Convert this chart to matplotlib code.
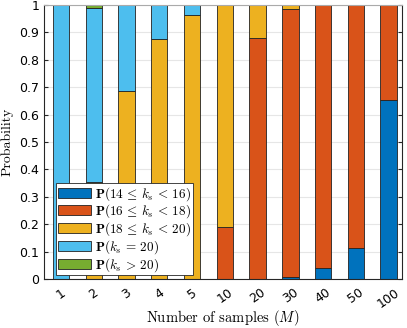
import numpy as np
from matplotlib import pyplot as plt

samples = ['1', '2', '3', '4', '5', '10', '20', '30', '40', '50', '100']
p_14_16 = [0, 0, 0, 0, 0, 0, 0, 0.008, 0.039, 0.114, 0.655]
p_16_18 = [0, 0, 0, 0, 0, 0.189, 0.878, 0.977, 0.961, 0.886, 0.345]
p_18_20 = [0, 0.355, 0.685, 0.875, 0.962, 0.811, 0.122, 0.015, 0, 0, 0]
p_eq_20 = [1.0, 0.633, 0.315, 0.125, 0.038, 0, 0, 0, 0, 0, 0]
p_gt_20 = [0, 0.012, 0, 0, 0, 0, 0, 0, 0, 0, 0]

labels = [r'$\mathbf{P}(14 \,\leq\, k_s \,<\, 16)$',
          r'$\mathbf{P}(16 \,\leq\, k_s \,<\, 18)$',
          r'$\mathbf{P}(18 \,\leq\, k_s \,<\, 20)$',
          r'$\mathbf{P}(k_s \,=\, 20)$',
          r'$\mathbf{P}(k_s \,>\, 20)$']
colors = ['#0072BD', '#D95319', '#EDB120', '#4DBEEE', '#77AC30']

plt.rcParams['mathtext.fontset'] = 'cm'
plt.rcParams['font.family'] = 'DejaVu Sans'

fig = plt.figure(figsize=(4.07, 3.28), dpi=100)
ax = fig.add_axes([0.108, 0.149, 0.879, 0.836])

x = np.arange(len(samples))
bottom = np.zeros(len(samples))
for vals, c, lab in zip([p_14_16, p_16_18, p_18_20, p_eq_20, p_gt_20], colors, labels):
    ax.bar(x, vals, 0.5, bottom=bottom, color=c, edgecolor='#222222',
           linewidth=0.6, label=lab, zorder=2)
    bottom += np.array(vals)

ax.set_xlim(-0.52, len(samples) - 0.6)
ax.set_ylim(0, 1)
ax.set_yticks(np.arange(0, 1.01, 0.1))
ax.set_yticklabels(['0'] + ['%.1f' % v for v in np.arange(0.1, 0.95, 0.1)] + ['1'], fontsize=9)
ax.set_xticks(x)
ax.set_xticklabels(samples, rotation=35, fontsize=9)
ax.tick_params(direction='in', length=3, color='#262626', right=True, top=False)
ax.tick_params(axis='x', length=0, pad=5)
ax.grid(axis='y', color='#e6e6e6', linewidth=0.8, zorder=0)
ax.set_axisbelow(True)
for s in ax.spines.values():
    s.set_color('#262626')
    s.set_linewidth(0.8)
ax.spines['top'].set_color('#aaaaaa')

ax.set_ylabel('Probability', family='cmr10', fontsize=10, labelpad=4)
ax.set_xlabel(r'Number of samples ($M$)', family='cmr10', fontsize=10.5)
ax.xaxis.set_label_coords(0.5, -0.104)

leg = ax.legend(loc='lower left', bbox_to_anchor=(0.034, 0.014), fontsize=9.5,
                frameon=True, fancybox=False, edgecolor='#262626',
                handlelength=2.55, handleheight=0.8, handletextpad=0.3,
                labelspacing=0.0, borderpad=0.12, borderaxespad=0.0)
leg.get_frame().set_linewidth(0.6)
leg.get_frame().set_alpha(1)

fig.savefig('out.png', dpi=100)
